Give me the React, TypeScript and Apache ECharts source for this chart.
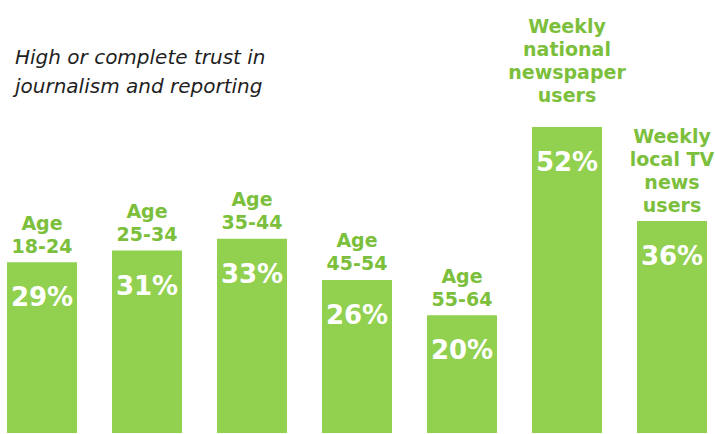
import React, { useEffect, useRef } from "react";
import * as echarts from "echarts";

const categories = [
  "Age\n18-24",
  "Age\n25-34",
  "Age\n35-44",
  "Age\n45-54",
  "Age\n55-64",
  "Weekly\nnational\nnewspaper\nusers",
  "Weekly\nlocal TV\nnews\nusers",
];
const values = [29, 31, 33, 26, 20, 52, 36];
const title = "High or complete trust in\njournalism and reporting";

const BAR = "#92d050";
const TEXT_GREEN = "#7cbf3c";
const FONT = "'DejaVu Sans', 'Liberation Sans', sans-serif";

export default function App() {
  const ref = useRef<HTMLDivElement>(null);
  useEffect(() => {
    if (!ref.current) return;
    const chart = echarts.init(ref.current, null, { renderer: "svg" });
    const points = values.map((v, i) => [i, v]);
    chart.setOption({
      animation: false,
      backgroundColor: "#ffffff",
      title: {
        text: title,
        left: 10,
        top: 37,
        textStyle: {
          fontFamily: FONT,
          fontStyle: "italic",
          fontWeight: "normal",
          fontSize: 20,
          lineHeight: 29,
          color: "#1f1f1f",
        },
      },
      grid: { left: 0, right: 0, top: 21, bottom: 1 },
      xAxis: {
        type: "value",
        min: -0.4,
        max: 6.4095,
        show: false,
      },
      yAxis: { type: "value", min: 0, max: 70, show: false },
      series: [
        {
          type: "bar",
          data: points,
          barWidth: 70,
          itemStyle: { color: BAR },
          label: {
            show: true,
            position: "insideTop",
            distance: 22,
            formatter: (p: any) => `${p.value[1]}%`,
            color: "#ffffff",
            fontFamily: FONT,
            fontWeight: "bold",
            fontSize: 26,
          },
        },
        {
          type: "bar",
          data: points.map((p, i) =>
            i === 5 ? { value: p, label: { distance: 20 } } : p
          ),
          barWidth: 70,
          barGap: "-100%",
          itemStyle: { color: "transparent" },
          silent: true,
          label: {
            show: true,
            position: "top",
            distance: 5,
            formatter: (p: any) => categories[p.dataIndex],
            color: TEXT_GREEN,
            fontFamily: FONT,
            fontWeight: "bold",
            fontSize: 19,
            lineHeight: 23,
            align: "center",
          },
        },
      ],
    });
    return () => chart.dispose();
  }, []);
  return (
    <div
      ref={ref}
      style={{ position: "fixed", left: 0, top: 0, width: 715, height: 434 }}
    />
  );
}
